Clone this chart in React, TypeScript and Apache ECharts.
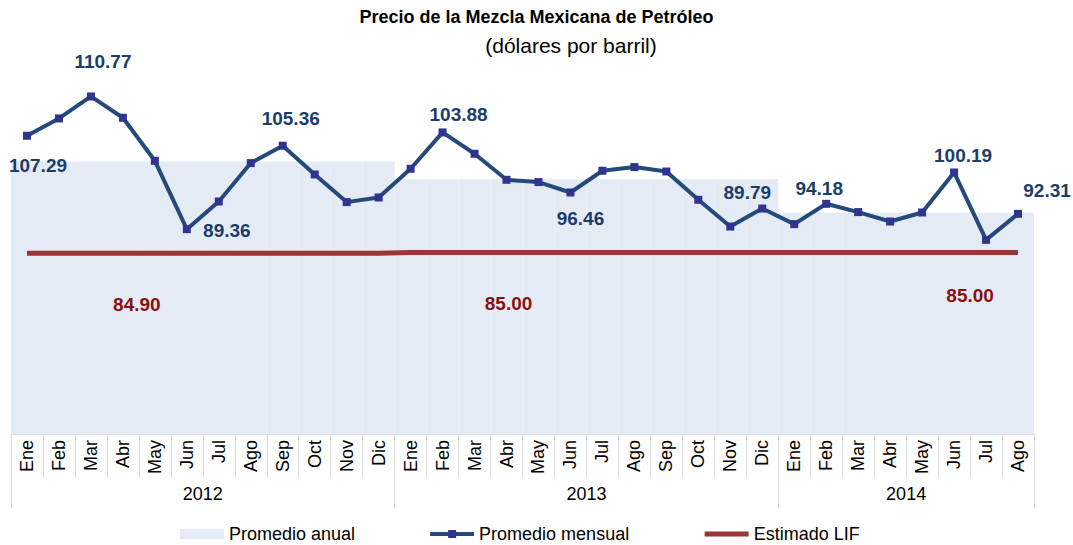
import React, { useEffect, useRef } from "react";
import * as echarts from "echarts";

const months = ["Ene", "Feb", "Mar", "Abr", "May", "Jun", "Jul", "Ago", "Sep", "Oct", "Nov", "Dic"];
const years = ["2012", "2013", "2014"];
const monthsPerYear = [12, 12, 8];

const monthly2012 = [104.31, 107.17, 110.81, 107.29, 100.17, 88.87, 93.44, 99.79, 102.66, 97.91, 93.34, 94.1];
const monthly2013 = [98.85, 104.86, 101.33, 97.03, 96.65, 94.93, 98.52, 99.13, 98.4, 93.72, 89.3, 92.28];
const monthly2014 = [89.7, 93.06, 91.69, 90.13, 91.62, 98.24, 87.1, 91.4];

const annualAverage = [100.05, 97.15, 91.6];
const lifEstimate = [84.9, 85.0, 85.0];

// data-label texts as printed on the chart (index in the 32-month sequence)
const monthlyLabelTexts: Record<number, string> = {
  0: "107.29",
  2: "110.77",
  5: "89.36",
  8: "105.36",
  13: "103.88",
  17: "96.46",
  23: "89.79",
  25: "94.18",
  29: "100.19",
  31: "92.31",
};
const lifLabelTexts: Record<number, string> = { 3: "84.90", 15: "85.00", 29: "85.00" };

// label placement (layout only)
const monthlyLabelOffsets: Record<number, [number, number]> = {
  0: [11, 30],
  2: [12, -35],
  5: [40, 1],
  8: [8, -27],
  13: [16, -18],
  17: [10, 26],
  23: [-15, -16],
  25: [-7, -15],
  29: [9, -17],
  31: [29, -23],
};
const lifLabelOffsets: Record<number, [number, number]> = { 3: [14, 51], 15: [2, 51], 29: [16, 43] };

const FONT = "'Liberation Sans', Arial, sans-serif";
const RED = "#9C3535";
const NAVY = "#244A7C";

export default function App() {
  const ref = useRef<HTMLDivElement>(null);

  useEffect(() => {
    if (!ref.current) return;
    const chart = echarts.init(ref.current, undefined, { renderer: "svg" });

    const categories: string[] = [];
    const yearOfMonth: number[] = [];
    monthsPerYear.forEach((n, y) => {
      for (let i = 0; i < n; i++) {
        categories.push(months[i]);
        yearOfMonth.push(y);
      }
    });
    const monthly = [...monthly2012, ...monthly2013, ...monthly2014];
    const annualBars = yearOfMonth.map((y) => annualAverage[y]);
    const lifLine = yearOfMonth.map((y) => lifEstimate[y]);

    const yearStarts: number[] = [0];
    monthsPerYear.forEach((n, i) => yearStarts.push(yearStarts[i] + n));
    const yearCenters = monthsPerYear.map((n, i) => yearStarts[i] + n / 2);

    const monthlyData = monthly.map((v, i) => {
      const t = monthlyLabelTexts[i];
      if (!t) return v;
      return {
        value: v,
        label: {
          show: true,
          position: "inside",
          offset: monthlyLabelOffsets[i],
          formatter: t,
          color: "#1B3D6B",
          fontSize: 19,
          fontWeight: "bold",
          fontFamily: FONT,
        },
      };
    });

    const lifLabelData = lifLine.map((v, i) => {
      const t = lifLabelTexts[i];
      if (!t) return "-";
      return {
        value: v,
        label: {
          show: true,
          position: "inside",
          offset: lifLabelOffsets[i],
          formatter: t,
          color: "#8B1010",
          textBorderWidth: 0,
          fontSize: 19,
          fontWeight: "bold",
          fontFamily: FONT,
        },
      };
    });

    chart.setOption({
      animation: false,
      backgroundColor: "#ffffff",
      textStyle: { fontFamily: FONT },
      title: {
        text: "Precio de la Mezcla Mexicana de Petróleo",
        left: "center",
        top: 3,
        textStyle: { fontSize: 18, fontWeight: "bold", color: "#000", fontFamily: FONT },
      },
      graphic: [
        {
          type: "text",
          x: 571,
          y: 45,
          style: {
            text: "(dólares por barril)",
            textAlign: "center",
            textVerticalAlign: "middle",
            fontSize: 21,
            fill: "#000",
            fontFamily: FONT,
          },
        },
      ],
      legend: {
        left: 180,
        top: 525,
        padding: 0,
        itemWidth: 44,
        itemHeight: 10,
        itemGap: 73,
        textStyle: { fontSize: 18, color: "#000", fontFamily: FONT },
        data: [
          { name: "Promedio anual", icon: "rect" },
          { name: "Promedio mensual", lineStyle: { width: 4, color: NAVY } },
          {
            name: "Estimado LIF",
            itemStyle: { color: "rgba(0,0,0,0)", borderWidth: 0 },
            lineStyle: { width: 5, color: RED },
          },
        ],
      },
      grid: { left: 11, right: 39, top: 59, bottom: 111, containLabel: false },
      xAxis: [
        {
          type: "category",
          data: categories,
          boundaryGap: true,
          axisLine: { show: true, lineStyle: { color: "#D9D9D9", width: 1, type: "dotted" } },
          axisTick: { show: true, interval: 0, length: 44, lineStyle: { color: "#D9D9D9", width: 1 } },
          axisLabel: {
            interval: 0,
            rotate: 90,
            margin: 6,
            fontSize: 18,
            color: "#000",
            fontFamily: FONT,
          },
          splitLine: { show: false },
        },
        {
          type: "value",
          position: "bottom",
          min: 0,
          max: yearStarts[yearStarts.length - 1],
          axisLine: { show: false },
          axisTick: {
            show: true,
            customValues: yearStarts,
            length: 74,
            lineStyle: { color: "#D9D9D9", width: 1 },
          },
          axisLabel: {
            show: true,
            customValues: yearCenters,
            margin: 51,
            fontSize: 18,
            color: "#000",
            fontFamily: FONT,
            formatter: (v: number) => {
              const idx = yearCenters.findIndex((c) => Math.abs(c - v) < 0.01);
              return idx >= 0 ? years[idx] : "";
            },
          },
          splitLine: { show: false },
        },
      ],
      yAxis: {
        type: "value",
        min: 55,
        max: 117,
        show: false,
        splitLine: { show: false },
      },
      series: [
        {
          name: "Promedio anual",
          type: "bar",
          data: annualBars,
          barCategoryGap: "0%",
          itemStyle: { color: "#E5EBF5" },
          silent: true,
          z: 1,
        },
        {
          name: "Estimado LIF",
          type: "line",
          data: lifLine,
          symbol: "none",
          lineStyle: { color: RED, width: 5 },
          itemStyle: { color: RED },
          z: 3,
        },
        {
          name: "lif-labels",
          type: "scatter",
          data: lifLabelData,
          symbol: "circle",
          symbolSize: 1,
          itemStyle: { color: "rgba(0,0,0,0)", opacity: 1 },
          silent: true,
          z: 5,
        },
        {
          name: "Promedio mensual",
          type: "line",
          data: monthlyData,
          symbol: "rect",
          symbolSize: 8,
          showAllSymbol: true,
          lineStyle: { color: NAVY, width: 4 },
          itemStyle: { color: "#30348F" },
          z: 4,
        },
      ],
    });

    return () => {
      chart.dispose();
    };
  }, []);

  return (
    <div
      ref={ref}
      style={{ position: "absolute", left: 0, top: 0, width: 1073, height: 545 }}
    />
  );
}
